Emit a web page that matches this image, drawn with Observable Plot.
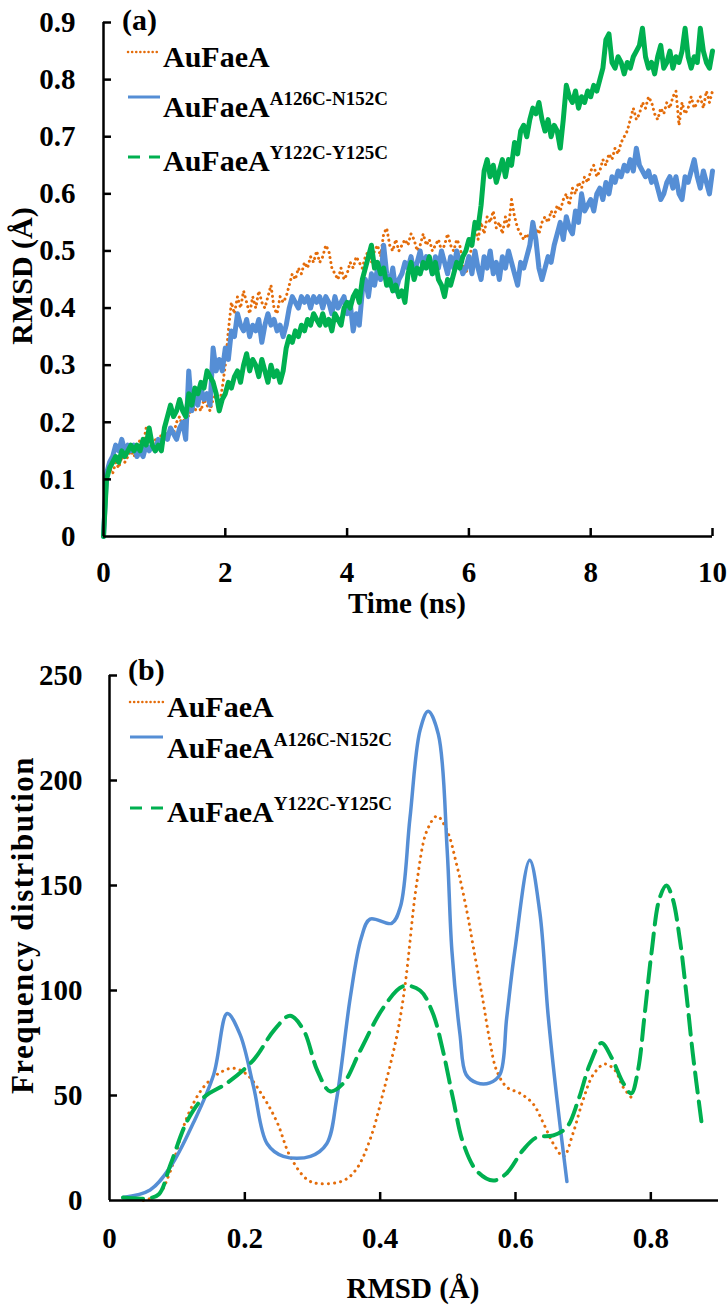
<!DOCTYPE html>
<html><head><meta charset="utf-8">
<script src="https://cdn.jsdelivr.net/npm/d3@7"></script>
<script src="https://cdn.jsdelivr.net/npm/@observablehq/plot@0.6"></script>
<style>
body{margin:0;background:#fff;}
#wrap{position:relative;width:728px;height:1305px;overflow:hidden;font-family:"Liberation Serif","Tinos","DejaVu Serif",serif;font-weight:bold;color:#000;}
.t{position:absolute;white-space:nowrap;}
.sup{line-height:0;}
#wrap svg.plot{position:absolute;left:0;}
</style></head><body><div id="wrap"></div>
<script>
// ---------- DATA ----------
const seriesNames = ["AuFaeA", "AuFaeA", "AuFaeA"];
const seriesSup = ["", "A126C-N152C", "Y122C-Y125C"];
const colors = ["#E46C0A", "#558ED5", "#00B050"];

// Panel (a): RMSD (Å) vs time (ns), sampled every 0.05 ns from 0 to 10 ns
const timeStep = 0.05;
const rmsdAuFaeA = [
0.00,0.10,0.12,0.11,0.13,0.12,0.14,0.13,0.14,0.15,
0.14,0.15,0.17,0.16,0.19,0.17,0.16,0.17,0.16,0.18,
0.17,0.18,0.19,0.18,0.20,0.21,0.19,0.22,0.21,0.23,
0.22,0.23,0.22,0.24,0.23,0.22,0.24,0.25,0.23,0.26,
0.30,0.36,0.41,0.39,0.42,0.40,0.43,0.41,0.39,0.42,
0.40,0.43,0.41,0.40,0.42,0.44,0.40,0.39,0.42,0.41,
0.42,0.44,0.46,0.45,0.47,0.46,0.48,0.47,0.49,0.48,
0.50,0.48,0.49,0.51,0.50,0.47,0.46,0.45,0.47,0.45,
0.46,0.48,0.47,0.49,0.48,0.47,0.49,0.50,0.48,0.50,
0.51,0.49,0.53,0.54,0.51,0.50,0.52,0.50,0.51,0.52,
0.51,0.53,0.52,0.50,0.51,0.53,0.51,0.52,0.50,0.51,
0.52,0.50,0.51,0.53,0.51,0.50,0.52,0.51,0.48,0.46,
0.48,0.51,0.54,0.52,0.55,0.53,0.56,0.55,0.57,0.54,
0.55,0.53,0.56,0.54,0.59,0.56,0.54,0.53,0.52,0.53,
0.52,0.53,0.54,0.53,0.55,0.56,0.55,0.57,0.56,0.58,
0.57,0.59,0.60,0.58,0.61,0.60,0.62,0.61,0.63,0.62,
0.64,0.65,0.63,0.64,0.66,0.65,0.67,0.66,0.68,0.67,
0.69,0.70,0.71,0.73,0.75,0.73,0.74,0.76,0.75,0.77,
0.76,0.74,0.73,0.75,0.74,0.76,0.75,0.77,0.78,0.72,
0.76,0.74,0.75,0.77,0.75,0.76,0.77,0.75,0.78,0.76,
0.78];
const rmsdA126C = [
0.00,0.11,0.13,0.14,0.16,0.15,0.17,0.15,0.16,0.15,
0.16,0.14,0.15,0.14,0.16,0.15,0.16,0.15,0.17,0.16,
0.18,0.17,0.19,0.18,0.17,0.19,0.20,0.17,0.29,0.22,
0.25,0.23,0.26,0.24,0.25,0.23,0.33,0.29,0.31,0.29,
0.33,0.31,0.36,0.35,0.39,0.37,0.36,0.38,0.35,0.37,
0.36,0.38,0.34,0.37,0.39,0.37,0.38,0.36,0.37,0.35,
0.37,0.40,0.42,0.41,0.40,0.42,0.41,0.42,0.40,0.42,
0.41,0.42,0.40,0.42,0.41,0.39,0.42,0.40,0.41,0.42,
0.39,0.41,0.36,0.39,0.37,0.43,0.45,0.42,0.46,0.44,
0.47,0.45,0.51,0.46,0.44,0.47,0.43,0.45,0.46,0.48,
0.47,0.49,0.46,0.48,0.50,0.47,0.49,0.48,0.46,0.49,
0.47,0.50,0.48,0.46,0.49,0.47,0.50,0.48,0.46,0.47,
0.49,0.46,0.50,0.47,0.45,0.49,0.47,0.50,0.46,0.48,
0.45,0.49,0.47,0.50,0.48,0.46,0.44,0.48,0.47,0.49,
0.51,0.55,0.52,0.47,0.45,0.47,0.49,0.48,0.51,0.53,
0.55,0.52,0.56,0.54,0.53,0.57,0.55,0.60,0.57,0.58,
0.59,0.57,0.60,0.61,0.59,0.62,0.60,0.63,0.62,0.64,
0.63,0.65,0.64,0.66,0.64,0.68,0.65,0.64,0.63,0.64,
0.62,0.63,0.61,0.59,0.60,0.62,0.63,0.61,0.63,0.60,
0.59,0.63,0.62,0.64,0.66,0.63,0.61,0.64,0.62,0.60,
0.64];
const rmsdY122C = [
0.00,0.10,0.12,0.13,0.14,0.13,0.15,0.14,0.15,0.16,
0.15,0.16,0.15,0.17,0.16,0.19,0.16,0.15,0.16,0.15,
0.19,0.21,0.23,0.21,0.22,0.24,0.22,0.21,0.25,0.23,
0.26,0.25,0.27,0.26,0.29,0.28,0.27,0.25,0.22,0.24,
0.25,0.27,0.26,0.28,0.29,0.27,0.30,0.32,0.29,0.31,
0.30,0.28,0.31,0.29,0.27,0.30,0.28,0.29,0.27,0.29,
0.33,0.35,0.34,0.36,0.35,0.37,0.36,0.38,0.37,0.39,
0.38,0.37,0.39,0.37,0.38,0.36,0.39,0.38,0.37,0.40,
0.41,0.40,0.42,0.43,0.41,0.45,0.47,0.49,0.51,0.47,
0.48,0.46,0.47,0.44,0.45,0.43,0.44,0.42,0.43,0.41,
0.46,0.48,0.45,0.47,0.46,0.48,0.47,0.49,0.46,0.48,
0.45,0.44,0.42,0.45,0.44,0.46,0.48,0.47,0.49,0.50,
0.52,0.51,0.55,0.54,0.58,0.64,0.66,0.63,0.65,0.62,
0.64,0.66,0.63,0.66,0.65,0.69,0.67,0.71,0.72,0.70,
0.73,0.75,0.74,0.76,0.73,0.71,0.73,0.70,0.72,0.71,
0.68,0.73,0.79,0.77,0.76,0.78,0.75,0.77,0.76,0.78,
0.77,0.79,0.78,0.80,0.82,0.87,0.88,0.83,0.82,0.84,
0.83,0.81,0.83,0.82,0.84,0.85,0.86,0.89,0.84,0.82,
0.83,0.81,0.84,0.86,0.82,0.83,0.85,0.82,0.84,0.83,
0.85,0.89,0.84,0.82,0.84,0.83,0.89,0.85,0.83,0.82,
0.85];

// Panel (b): frequency distribution vs RMSD (Å)
const freqX_AuFaeA = [0.05,0.073,0.09,0.115,0.139,0.164,0.183,0.203,0.228,0.248,0.267,0.292,0.311,0.346,0.365,0.385,0.405,0.425,0.437,0.454,0.469,0.484,0.499,0.513,0.528,0.538,0.552,0.562,0.572,0.587,0.607,0.626,0.641,0.656,0.671,0.685,0.70,0.715,0.732,0.747,0.759,0.774];
const freqY_AuFaeA = [0,3,14,40,54,61,63,60,49,37,21,10,8,9.5,15,29,52,79,103,151,176,183,176,160,138,120,95,76,62,54,51,46,37,27,21,32,48,60,65,62,54,48];
const freqX_A126C = [0.02,0.06,0.09,0.124,0.154,0.174,0.193,0.213,0.233,0.257,0.297,0.321,0.336,0.356,0.372,0.385,0.417,0.430,0.444,0.459,0.471,0.486,0.499,0.506,0.518,0.527,0.543,0.562,0.577,0.587,0.599,0.621,0.636,0.648,0.661,0.676];
const freqY_A126C = [1.4,5,16,37,60,89,79,54,27,21,21,27,49,97,125,134,132,140,182,224,233,222,167,119,79,60,56,56,60,87,119,162,137,89,49,9];
const freqX_Y122C = [0.02,0.056,0.073,0.09,0.115,0.139,0.174,0.213,0.243,0.267,0.287,0.307,0.326,0.346,0.37,0.405,0.434,0.459,0.478,0.493,0.508,0.523,0.543,0.567,0.587,0.611,0.631,0.656,0.676,0.693,0.71,0.727,0.742,0.759,0.771,0.781,0.791,0.801,0.813,0.823,0.832,0.843,0.853,0.862,0.875];
const freqY_Y122C = [1.4,1,3,17,38,49,56,67,81,88,81,62,52,56,71,92,102,100,89,71,48,27,14,9.5,13,24,30,31,35,48,65,75,68,56,51,62,89,118,144,150,144,124,97,70,37];

// Ticks
const xTicksA = [0, 2, 4, 6, 8, 10];
const yTicksA = [0, 0.1, 0.2, 0.3, 0.4, 0.5, 0.6, 0.7, 0.8, 0.9];
const xTicksB = [0, 0.2, 0.4, 0.6, 0.8];
const yTicksB = [0, 50, 100, 150, 200, 250];

// ---------- BUILD ----------
const wrap = document.getElementById("wrap");
const FONT = "'Liberation Serif','Tinos','DejaVu Serif',serif";
const fmt1 = d => d === 0 ? "0" : d3.format(".1f")(d);
const baseStyle = {fontFamily: FONT, fontWeight: "bold", fontSize: "29px", color: "#000", background: "transparent", overflow: "visible"};
const TL = 8; // inward tick length px

const tsA = rmsdAuFaeA.map((v, i) => ({t: i * timeStep, v}));
const tsB = rmsdA126C.map((v, i) => ({t: i * timeStep, v}));
const tsC = rmsdY122C.map((v, i) => ({t: i * timeStep, v}));

const A = {w: 728, h: 625, ml: 103, mr: 16, mt: 22, mb: 89, xd: [0, 10], yd: [0, 0.9]};
const aW = A.w - A.ml - A.mr, aH = A.h - A.mt - A.mb;
const plotA = Plot.plot({
  width: A.w, height: A.h,
  marginLeft: A.ml, marginRight: A.mr, marginTop: A.mt, marginBottom: A.mb,
  style: baseStyle,
  x: {domain: A.xd}, y: {domain: A.yd},
  marks: [
    Plot.line(tsA, {x: "t", y: "v", stroke: colors[0], strokeWidth: 3, strokeDasharray: "0.1 5", strokeLinecap: "round"}),
    Plot.line(tsB, {x: "t", y: "v", stroke: colors[1], strokeWidth: 5, strokeLinejoin: "round"}),
    Plot.line(tsC, {x: "t", y: "v", stroke: colors[2], strokeWidth: 5, strokeLinejoin: "round"}),
    Plot.ruleX([0], {stroke: "#000", strokeWidth: 2.5}),
    Plot.ruleY([0], {stroke: "#000", strokeWidth: 2.5}),
    Plot.ruleY(yTicksA.slice(1), {x1: 0, x2: (A.xd[1] - A.xd[0]) * TL / aW, stroke: "#000", strokeWidth: 2.5}),
    Plot.ruleX(xTicksA.slice(1), {y1: 0, y2: (A.yd[1] - A.yd[0]) * TL / aH, stroke: "#000", strokeWidth: 2.5}),
    Plot.axisY({ticks: yTicksA, tickSize: 0, tickPadding: 28, tickFormat: fmt1, label: null, fontSize: 29, fontFamily: FONT}),
    Plot.axisX({ticks: xTicksA, tickSize: 0, tickPadding: 25, tickFormat: d => String(d), label: null, fontSize: 29, fontFamily: FONT})
  ]
});
plotA.classList.add("plot");
plotA.style.top = "0px";
wrap.appendChild(plotA);

const B = {w: 728, h: 680, ml: 109, mr: 10, mt: 50, mb: 105, xd: [0, 0.9], yd: [0, 250], top: 625};
const bW = B.w - B.ml - B.mr, bH = B.h - B.mt - B.mb;
const lineB = (xs, ys) => xs.map((x, i) => ({x, y: ys[i]}));
const plotB = Plot.plot({
  width: B.w, height: B.h,
  marginLeft: B.ml, marginRight: B.mr, marginTop: B.mt, marginBottom: B.mb,
  style: baseStyle,
  x: {domain: B.xd}, y: {domain: B.yd},
  marks: [
    Plot.line(lineB(freqX_AuFaeA, freqY_AuFaeA), {x: "x", y: "y", curve: "catmull-rom", stroke: colors[0], strokeWidth: 3, strokeDasharray: "0.1 6", strokeLinecap: "round"}),
    Plot.line(lineB(freqX_A126C, freqY_A126C), {x: "x", y: "y", curve: "catmull-rom", stroke: colors[1], strokeWidth: 3.5}),
    Plot.line(lineB(freqX_Y122C, freqY_Y122C), {x: "x", y: "y", curve: "catmull-rom", stroke: colors[2], strokeWidth: 4, strokeDasharray: "20 9"}),
    Plot.ruleX([0], {stroke: "#000", strokeWidth: 2.5}),
    Plot.ruleY([0], {stroke: "#000", strokeWidth: 2.5}),
    Plot.ruleY(yTicksB.slice(1), {x1: 0, x2: (B.xd[1] - B.xd[0]) * TL / bW, stroke: "#000", strokeWidth: 2.5}),
    Plot.ruleX(xTicksB.slice(1), {y1: 0, y2: (B.yd[1] - B.yd[0]) * TL / bH, stroke: "#000", strokeWidth: 2.5}),
    Plot.axisY({ticks: yTicksB, tickSize: 0, tickPadding: 27, tickFormat: d => String(d), label: null, fontSize: 29, fontFamily: FONT}),
    Plot.axisX({ticks: xTicksB, tickSize: 0, tickPadding: 27, tickFormat: fmt1, label: null, fontSize: 29, fontFamily: FONT})
  ]
});
plotB.classList.add("plot");
plotB.style.top = B.top + "px";
wrap.appendChild(plotB);

// ---------- TEXT & LEGENDS ----------
function addText(html, x, baseline, size, opts = {}) {
  const d = document.createElement("div");
  d.className = "t";
  d.style.fontSize = size + "px";
  d.style.lineHeight = size + "px";
  if (opts.ls) d.style.letterSpacing = opts.ls + "px";
  d.innerHTML = html;
  wrap.appendChild(d);
  const top = baseline - 0.8375 * size;
  if (opts.center) {
    d.style.left = (x - d.offsetWidth / 2) + "px";
  } else d.style.left = x + "px";
  d.style.top = top + "px";
  return d;
}
function addRotated(text, cx, cy, size, ls) {
  const d = document.createElement("div");
  d.className = "t";
  d.style.fontSize = size + "px";
  d.style.lineHeight = size + "px";
  if (ls) d.style.letterSpacing = ls + "px";
  d.style.left = cx + "px";
  d.style.top = cy + "px";
  d.style.transform = "translate(-50%,-50%) rotate(-90deg)";
  d.textContent = text;
  wrap.appendChild(d);
}

addText("(a)", 122, 30, 30);
addText("(b)", 128, 680, 30);
addText("Time (ns)", 407, 613, 29, {center: true});
addText("RMSD (Å)", 413, 1298, 29, {center: true});
addRotated("RMSD (Å)", 22, 276, 30);
addRotated("Frequency distribution", 22, 925, 31, 1.5);

const ns = "http://www.w3.org/2000/svg";
const ov = document.createElementNS(ns, "svg");
ov.setAttribute("width", 728); ov.setAttribute("height", 1305);
ov.style.position = "absolute"; ov.style.left = "0"; ov.style.top = "0";
wrap.appendChild(ov);
const sampleStyles = [
  {w: 2.5, dash: "0.1 4", cap: "round"},
  {w: 3, dash: null, cap: "butt"},
  {w: 3, dash: "12 9", cap: "butt"}
];
function legend(x1, x2, tx, lineYs, baselines) {
  seriesNames.forEach((name, i) => {
    const l = document.createElementNS(ns, "line");
    l.setAttribute("x1", x1); l.setAttribute("x2", x2);
    l.setAttribute("y1", lineYs[i]); l.setAttribute("y2", lineYs[i]);
    l.setAttribute("stroke", colors[i]);
    l.setAttribute("stroke-width", sampleStyles[i].w);
    l.setAttribute("stroke-linecap", sampleStyles[i].cap);
    if (sampleStyles[i].dash) l.setAttribute("stroke-dasharray", sampleStyles[i].dash);
    ov.appendChild(l);
    const sup = seriesSup[i] ? `<span class="sup" style="font-size:19px;vertical-align:12px">${seriesSup[i]}</span>` : "";
    addText(name + sup, tx, baselines[i], 30);
  });
}
legend(128, 160, 163, [52, 97, 157], [67, 117, 171]);
legend(130, 163, 167, [702, 737, 808], [717, 758, 822]);
</script>
</body></html>
